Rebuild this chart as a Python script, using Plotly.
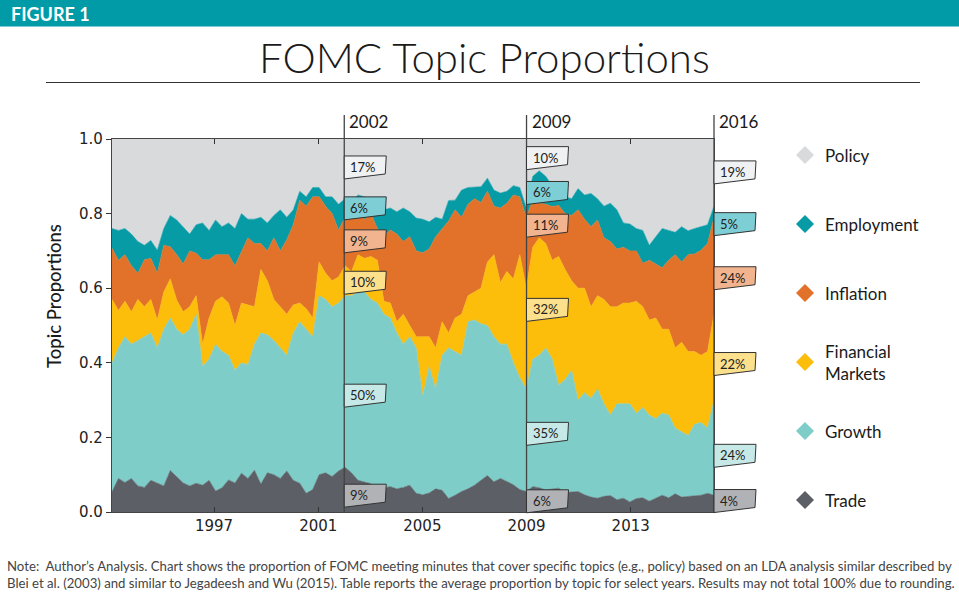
import numpy as np
import plotly.graph_objects as go

# ---------------- data ----------------
start_year = 1993.08
end_year = 2016.2
n_points = 94

trade = [.054,.090,.079,.090,.070,.066,.085,.078,.070,.111,
         .095,.078,.070,.077,.072,.085,.056,.065,.086,.078,
         .104,.090,.112,.075,.105,.100,.090,.110,.085,.077,
         .050,.060,.100,.105,.095,.110,.120,.105,.085,.080,
         .076,.058,.065,.068,.062,.066,.072,.050,.046,.051,
         .062,.058,.036,.045,.055,.062,.072,.085,.098,.081,
         .090,.082,.073,.060,.055,.068,.065,.059,.062,.064,
         .052,.053,.055,.046,.040,.037,.042,.044,.033,.037,
         .027,.036,.038,.029,.038,.045,.038,.049,.040,.041,
         .044,.045,.050,.045]
growth = [.346,.350,.391,.360,.390,.404,.395,.362,.420,.409,
          .395,.397,.420,.453,.318,.325,.394,.365,.334,.302,
          .296,.305,.338,.405,.370,.360,.350,.310,.395,.433,
          .440,.410,.480,.465,.455,.450,.460,.475,.505,.510,
          .494,.502,.465,.452,.418,.384,.398,.390,.264,.339,
          .268,.362,.404,.385,.365,.448,.443,.420,.402,.389,
          .360,.368,.327,.300,.275,.342,.355,.381,.348,.276,
          .303,.327,.245,.274,.265,.293,.248,.216,.257,.253,
          .263,.229,.242,.231,.212,.220,.222,.176,.175,.164,
          .191,.195,.175,.255]
financial = [.170,.100,.095,.087,.110,.080,.090,.075,.100,.105,
             .078,.062,.060,.050,.060,.110,.115,.147,.140,.120,
             .160,.160,.100,.170,.145,.110,.110,.110,.075,.050,
             .055,.050,.090,.070,.070,.070,.080,.065,.100,.090,
             .115,.115,.035,.040,.030,.080,.030,.030,.160,.080,
             .110,.090,.040,.090,.110,.070,.075,.095,.170,.220,
             .165,.195,.225,.330,.270,.300,.315,.280,.265,.345,
             .295,.240,.300,.280,.245,.250,.280,.290,.260,.270,
             .270,.300,.270,.255,.270,.225,.230,.215,.240,.225,
             .195,.180,.205,.230]
inflation = [.137,.135,.125,.123,.070,.126,.110,.125,.125,.086,
             .122,.128,.150,.114,.226,.156,.125,.113,.130,.160,
             .140,.180,.170,.070,.080,.165,.150,.200,.215,.276,
             .275,.325,.175,.180,.180,.126,.130,.140,.110,.105,
             .115,.085,.175,.196,.235,.195,.238,.230,.225,.235,
             .298,.250,.300,.290,.260,.245,.250,.230,.190,.130,
             .200,.183,.225,.155,.190,.126,.093,.105,.144,.137,
             .150,.175,.210,.185,.215,.203,.165,.175,.155,.150,
             .140,.135,.117,.160,.145,.165,.185,.250,.215,.260,
             .262,.282,.290,.260]
employment = [.053,.080,.070,.085,.085,.039,.048,.062,.045,.084,
              .093,.100,.045,.076,.099,.079,.093,.075,.085,.100,
              .100,.050,.065,.070,.075,.060,.110,.060,.040,.024,
              .025,.025,.025,.025,.045,.069,.050,.045,.050,.060,
              .036,.040,.070,.059,.060,.090,.067,.088,.090,.073,
              .052,.025,.055,.026,.073,.045,.030,.042,.035,.043,
              .040,.032,.025,.025,.025,.064,.087,.075,.056,.036,
              .045,.045,.057,.065,.089,.057,.085,.103,.105,.065,
              .072,.060,.088,.040,.073,.105,.080,.060,.095,.064,
              .068,.063,.050,.030]
policy = [.240,.245,.240,.255,.275,.285,.272,.298,.240,.205,
          .217,.235,.255,.230,.225,.245,.217,.235,.225,.240,
          .200,.215,.215,.210,.225,.205,.190,.210,.190,.140,
          .155,.130,.130,.155,.155,.175,.160,.170,.150,.155,
          .164,.200,.190,.185,.195,.185,.195,.212,.215,.222,
          .210,.215,.165,.164,.137,.130,.130,.128,.105,.137,
          .145,.140,.125,.130,.185,.100,.085,.100,.125,.142,
          .155,.160,.133,.150,.146,.160,.180,.172,.190,.225,
          .228,.240,.245,.285,.262,.240,.245,.250,.235,.246,
          .240,.235,.230,.180]

# stacking order: bottom -> top
topics = ["Trade", "Growth", "Financial Markets", "Inflation", "Employment", "Policy"]
series = [trade, growth, financial, inflation, employment, policy]

# average proportions (%) for select years, same order as topics
marker_years = ["2002", "2009", "2016"]
marker_x = [2002.0, 2009.0, 2016.2]
avg_2002 = [9, 50, 10, 9, 6, 17]
avg_2009 = [6, 35, 32, 11, 6, 10]
avg_2016 = [4, 24, 22, 24, 5, 19]
averages = [avg_2002, avg_2009, avg_2016]

x_ticks = [1997, 2001, 2005, 2009, 2013]
y_ticks = [0.0, 0.2, 0.4, 0.6, 0.8, 1.0]

legend_labels = ["Trade", "Growth", "Financial<br>Markets", "Inflation", "Employment", "Policy"]

# ---------------- styles ----------------
area_colors = ["#5c5f66", "#7ecdc8", "#fcbd0b", "#e27229", "#079ba6", "#d8dadb"]
label_fills = ["#b1b2b6", "#c6e9e7", "#fde08c", "#f1b48e", "#7ecfd5", "#f0f1f2"]
teal_bar = "#009ba6"
LATO = "Lato"
DJV = "DejaVu Sans"

W, H = 959, 611
L, R, T, B = 112, 714, 139, 512   # plot area pixel box
pw, ph = R - L, B - T


def px_x(p):
    return (p - L) / pw


def px_y(p):
    return (B - p) / ph


dates = np.linspace(start_year, end_year, n_points)

fig = go.Figure()
for name, vals, col in zip(topics, series, area_colors):
    fig.add_trace(go.Scatter(
        x=dates, y=vals, name=name, stackgroup="one", mode="lines",
        line=dict(width=0.6, color=col), fillcolor=col,
        showlegend=False, hoverinfo="skip"))

shapes = []
annotations = []

# header bar
shapes.append(dict(type="rect", xref="paper", yref="paper",
                   x0=px_x(0), x1=px_x(W), y0=px_y(26.5), y1=px_y(0),
                   fillcolor=teal_bar, line=dict(width=0), layer="above"))
annotations.append(dict(text="<b>FIGURE 1</b>", xref="paper", yref="paper",
                        x=px_x(9), y=px_y(13.5), xanchor="left", yanchor="middle",
                        showarrow=False, font=dict(family=LATO, size=18, color="white")))
# title and rule
annotations.append(dict(text="FOMC Topic Proportions", xref="paper", yref="paper",
                        x=px_x(484), y=px_y(57), xanchor="center", yanchor="middle",
                        showarrow=False,
                        font=dict(family=LATO, size=42, color="#1a1a1a", weight=300)))
shapes.append(dict(type="line", xref="paper", yref="paper",
                   x0=px_x(46), x1=px_x(920), y0=px_y(82.5), y1=px_y(82.5),
                   line=dict(color="#333333", width=1)))

# y title
annotations.append(dict(text="Topic Proportions", xref="paper", yref="paper",
                        x=px_x(54), y=px_y(296), textangle=-90,
                        xanchor="center", yanchor="middle", showarrow=False,
                        font=dict(family=LATO, size=18.5, color="#1a1a1a", weight=500)))

# marker year lines, year labels, callouts
span = end_year - start_year
label_nudges = {  # pixel nudges (up positive) to keep boxes from colliding
    ("2002", 1): -10, ("2002", 2): -9, ("2002", 3): -3, ("2002", 4): 2,
    ("2009", 1): -9, ("2009", 2): -10, ("2009", 3): -6, ("2009", 4): -5,
    ("2016", 0): 4, ("2016", 1): -3, ("2016", 2): 3, ("2016", 3): 3,
    ("2016", 4): 3, ("2016", 5): 10,
}
for yr, xv, avg in zip(marker_years, marker_x, averages):
    xp = (xv - start_year) / span
    shapes.append(dict(type="line", xref="paper", yref="paper",
                       x0=xp, x1=xp, y0=0, y1=px_y(115),
                       line=dict(color="#444444", width=1.3), layer="above"))
    annotations.append(dict(text=yr, xref="paper", yref="paper", x=xp, y=px_y(122),
                            xanchor="left", yanchor="middle", xshift=3, showarrow=False,
                            font=dict(family=LATO, size=17, color="#1a1a1a")))
    cum = np.cumsum(avg) / 100.0
    for k, v in enumerate(avg):
        mid = cum[k] - v / 200.0
        d = label_nudges.get((yr, k), 0)
        path = f"M 0,{11 + d} L 42,{11 + d} L 41,{-7 + d} L 0,{-12 + d} Z"
        shapes.append(dict(type="path", xref="paper", yref="paper",
                           xsizemode="pixel", ysizemode="pixel",
                           xanchor=xp, yanchor=mid, path=path,
                           fillcolor=label_fills[k],
                           line=dict(color="#333333", width=1), layer="above"))
        annotations.append(dict(text=f"{v}%", xref="paper", yref="paper",
                                x=xp, y=mid, xanchor="left", yanchor="middle",
                                xshift=4, yshift=d, showarrow=False,
                                font=dict(family=LATO, size=13, color="#222222")))

# legend (diamonds + labels), top to bottom
row_y = [500, 431, 362, 293, 224, 155]
for k in range(len(topics)):
    yp = px_y(row_y[k])
    shapes.append(dict(type="path", xref="paper", yref="paper",
                       xsizemode="pixel", ysizemode="pixel",
                       xanchor=px_x(805), yanchor=yp,
                       path="M 0,9 L 9,0 L 0,-9 L -9,0 Z",
                       fillcolor=area_colors[k], line=dict(width=0)))
    annotations.append(dict(text=legend_labels[k], xref="paper", yref="paper",
                            x=px_x(823), y=yp, xanchor="left", yanchor="middle",
                            align="left", showarrow=False,
                            font=dict(family=LATO, size=17, color="#1a1a1a")))

# footnote
note = ("Note:  Author’s Analysis. Chart shows the proportion of FOMC meeting minutes that cover "
        "specific topics (e.g., policy) based on an LDA analysis similar described by<br>"
        "Blei et al. (2003) and similar to Jegadeesh and Wu (2015). Table reports the average "
        "proportion by topic for select years. Results may not total 100% due to rounding.")
annotations.append(dict(text=note, xref="paper", yref="paper",
                        x=px_x(5), y=px_y(574), xanchor="left", yanchor="middle",
                        align="left", showarrow=False,
                        font=dict(family=LATO, size=13.2, color="#444444")))

fig.update_layout(
    width=W, height=H,
    margin=dict(l=L, r=W - R, t=T, b=H - B, pad=0),
    paper_bgcolor="white", plot_bgcolor="white",
    shapes=shapes, annotations=annotations,
    showlegend=False, hovermode=False,
    xaxis=dict(range=[start_year, end_year], tickvals=x_ticks,
               ticktext=[str(t) for t in x_ticks],
               ticks="inside", ticklen=5, tickcolor="#333333", tickwidth=1,
               showline=True, linecolor="#444444", linewidth=1.2, mirror="ticks",
               showgrid=False, zeroline=False,
               tickfont=dict(family=DJV, size=15, color="#222222")),
    yaxis=dict(range=[0, 1], tickvals=y_ticks,
               ticktext=[f"{t:.1f}" for t in y_ticks],
               ticks="outside", ticklen=5, tickcolor="#333333", tickwidth=1,
               showline=True, linecolor="#444444", linewidth=1.2, mirror=True,
               showgrid=False, zeroline=False,
               tickfont=dict(family=DJV, size=15, color="#222222")),
)

fig.write_html("out.html", config={"displayModeBar": False},
               post_script="document.body.style.margin='0';document.body.style.overflow='hidden';")
